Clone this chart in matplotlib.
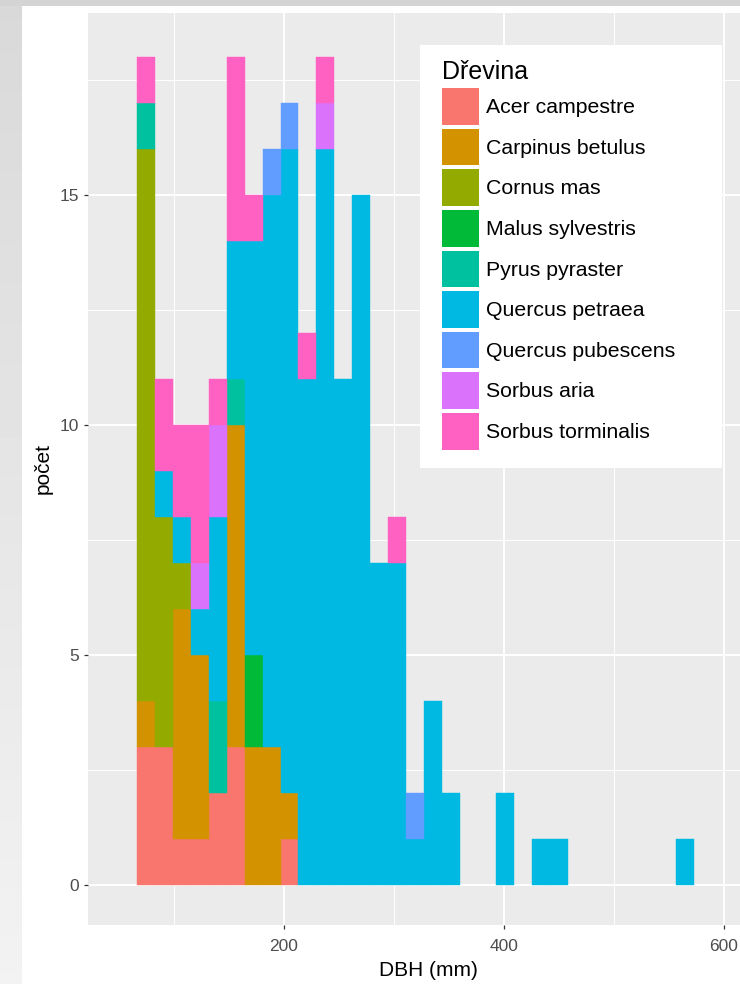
import numpy as np
import matplotlib
matplotlib.use("Agg")
import matplotlib.pyplot as plt
from matplotlib.patches import Rectangle, Patch

plt.rcParams['font.family'] = ['Liberation Sans', 'DejaVu Sans']

# histogram bins (DBH in mm)
bin_start = 66.1
bin_width = 16.34
n_bins = 31

species = ["Acer campestre", "Carpinus betulus", "Cornus mas", "Malus sylvestris",
           "Pyrus pyraster", "Quercus petraea", "Quercus pubescens", "Sorbus aria",
           "Sorbus torminalis"]
colors = ["#F8766D", "#D39200", "#93AA00", "#00BA38", "#00C19F",
          "#00B9E3", "#619CFF", "#DB72FB", "#FF61C3"]

# counts per bin for each species
acer      = [3, 3, 1, 1, 2, 3, 0, 0, 1, 0, 0, 0, 0, 0, 0, 0, 0, 0, 0, 0, 0, 0, 0, 0, 0, 0, 0, 0, 0, 0, 0]
carpinus  = [1, 0, 5, 4, 0, 7, 3, 3, 1, 0, 0, 0, 0, 0, 0, 0, 0, 0, 0, 0, 0, 0, 0, 0, 0, 0, 0, 0, 0, 0, 0]
cornus    = [12, 5, 1, 0, 0, 0, 0, 0, 0, 0, 0, 0, 0, 0, 0, 0, 0, 0, 0, 0, 0, 0, 0, 0, 0, 0, 0, 0, 0, 0, 0]
malus     = [0, 0, 0, 0, 0, 0, 2, 0, 0, 0, 0, 0, 0, 0, 0, 0, 0, 0, 0, 0, 0, 0, 0, 0, 0, 0, 0, 0, 0, 0, 0]
pyrus     = [1, 0, 0, 0, 2, 1, 0, 0, 0, 0, 0, 0, 0, 0, 0, 0, 0, 0, 0, 0, 0, 0, 0, 0, 0, 0, 0, 0, 0, 0, 0]
q_petraea = [0, 1, 1, 1, 4, 3, 9, 12, 14, 11, 16, 11, 15, 7, 7, 1, 4, 2, 0, 0, 2, 0, 1, 1, 0, 0, 0, 0, 0, 0, 1]
q_pub     = [0, 0, 0, 0, 0, 0, 0, 1, 1, 0, 0, 0, 0, 0, 0, 1, 0, 0, 0, 0, 0, 0, 0, 0, 0, 0, 0, 0, 0, 0, 0]
s_aria    = [0, 0, 0, 1, 2, 0, 0, 0, 0, 0, 1, 0, 0, 0, 0, 0, 0, 0, 0, 0, 0, 0, 0, 0, 0, 0, 0, 0, 0, 0, 0]
s_torm    = [1, 2, 2, 3, 1, 4, 1, 0, 0, 1, 1, 0, 0, 0, 1, 0, 0, 0, 0, 0, 0, 0, 0, 0, 0, 0, 0, 0, 0, 0, 0]
counts = [acer, carpinus, cornus, malus, pyrus, q_petraea, q_pub, s_aria, s_torm]

W, H = 740, 984
fig = plt.figure(figsize=(W / 100, H / 100), dpi=100)
fig.patch.set_facecolor("white")

# grey page border (left gradient + top strip)
band = fig.add_axes([0, 0, 22 / W, 1])
grad = np.linspace(0.85, 0.95, 200).reshape(-1, 1)
band.imshow(grad, cmap="gray", vmin=0, vmax=1, aspect="auto")
band.axis("off")
fig.add_artist(Rectangle((0, 1 - 6 / H), 1, 6 / H, transform=fig.transFigure,
                         facecolor="#d4d4d4", edgecolor="none"))

# panel (extends a bit past the right edge, as in the cropped original)
ax = fig.add_axes([88 / W, 1 - 925 / H, 680 / W, 912 / H])
ax.set_facecolor("#EBEBEB")
ax.set_xlim(21.8, 640)
ax.set_ylim(-0.87, 18.96)

edges = bin_start + bin_width * np.arange(n_bins)
bottom = np.zeros(n_bins)
for name, col, c in zip(species, colors, counts):
    c = np.array(c, dtype=float)
    m = c > 0
    ax.bar(edges[m], c[m], width=bin_width, bottom=bottom[m], align="edge",
           color=col, edgecolor=col, linewidth=0.3)
    bottom += c

ax.set_xticks([200, 400, 600])
ax.set_xticks([100, 300, 500], minor=True)
ax.set_yticks([0, 5, 10, 15])
ax.set_yticks([2.5, 7.5, 12.5, 17.5], minor=True)
ax.grid(which="major", color="white", linewidth=1.4)
ax.grid(which="minor", color="white", linewidth=0.7)
ax.set_axisbelow(True)
for s in ax.spines.values():
    s.set_visible(False)
ax.tick_params(which="major", length=3, width=0.9, color="#333333",
               labelsize=12.5, labelcolor="#4D4D4D", pad=3.5)
ax.tick_params(axis="x", which="major", pad=7)
ax.tick_params(which="minor", length=0)

ax.set_xlabel("DBH (mm)", fontsize=15, labelpad=5)
ax.set_ylabel("počet", fontsize=15, labelpad=5)

# legend on a white box inside the panel
fig.add_artist(Rectangle((420 / W, 1 - 468 / H), 302 / W, 423 / H,
                         transform=fig.transFigure, facecolor="white",
                         edgecolor="none", zorder=5))
handles = [Patch(facecolor=c, edgecolor="none") for c in colors]
leg = fig.legend(handles, species, loc="upper left",
                 bbox_to_anchor=(438 / W, 1 - 56 / H), frameon=False,
                 fontsize=15.3, title="Dřevina", title_fontsize=18,
                 alignment="left", handlelength=1.72, handleheight=2.27,
                 labelspacing=0.19, handletextpad=0.34, borderpad=0.2,
                 borderaxespad=0)
leg.set_zorder(6)

fig.savefig("out.png", dpi=100)
